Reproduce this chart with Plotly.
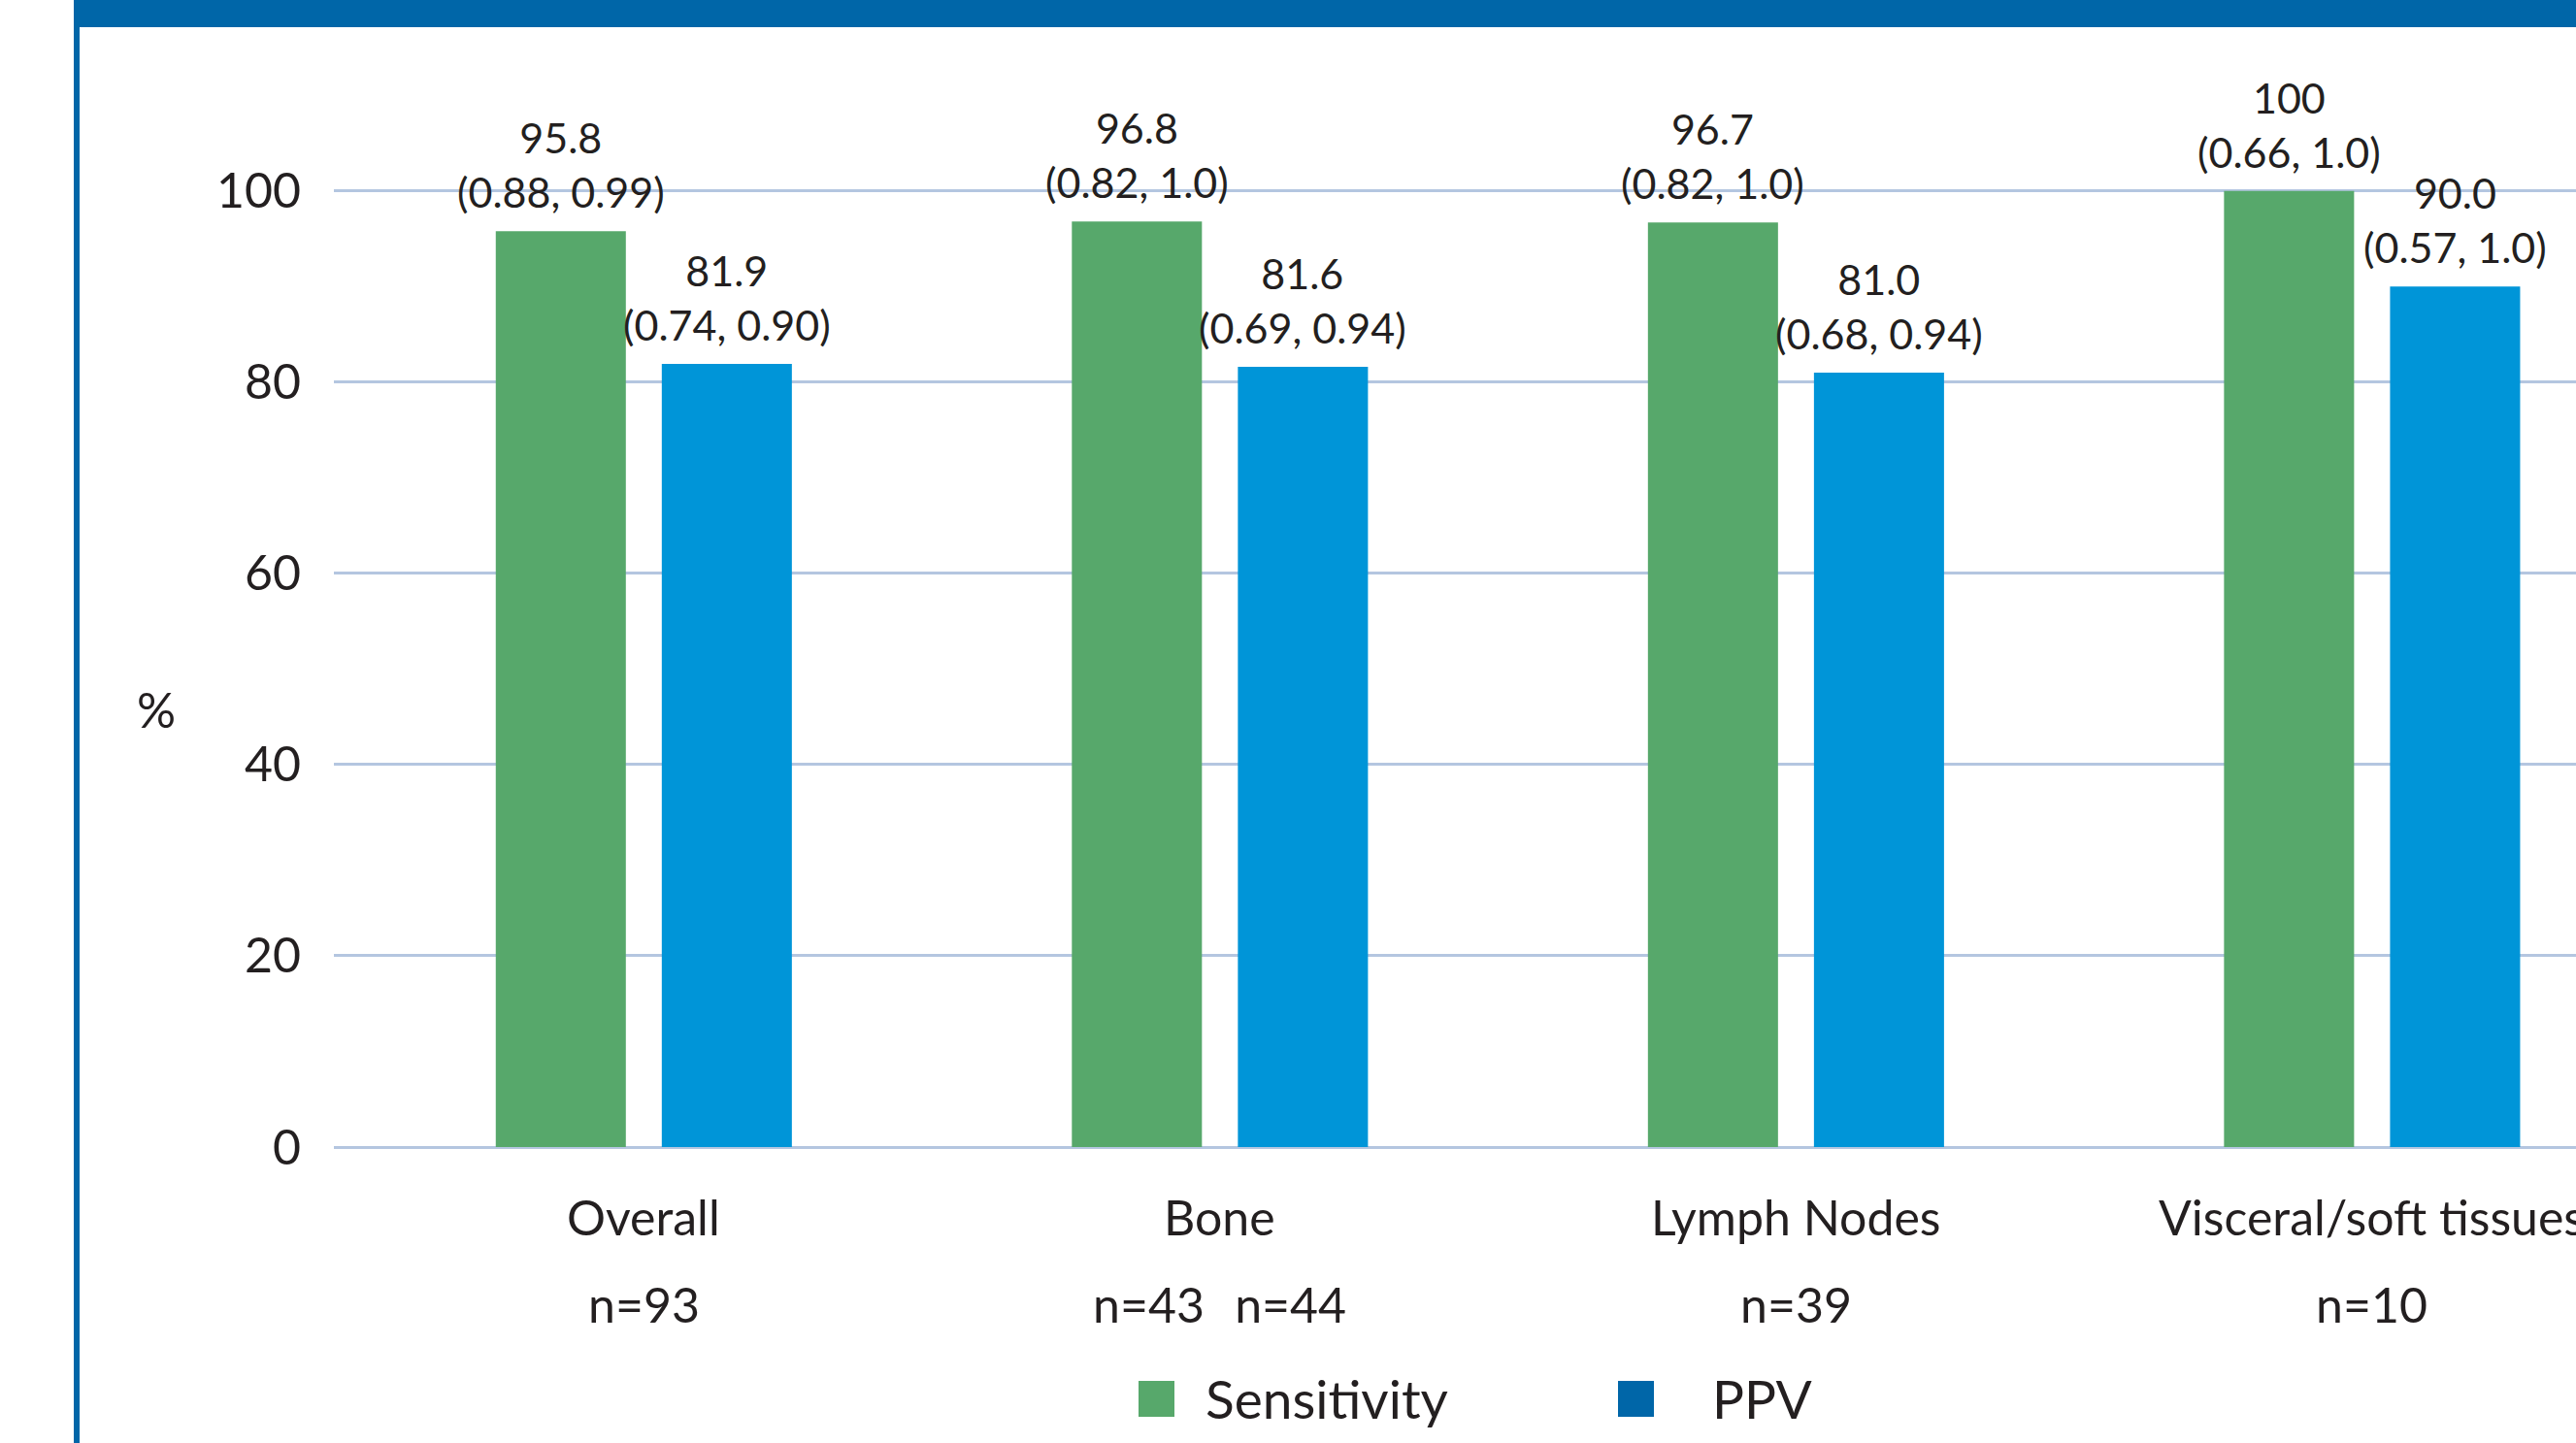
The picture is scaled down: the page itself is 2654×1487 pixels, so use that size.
import plotly.graph_objects as go

# ---- data -------------------------------------------------------------
categories = ["Overall", "Bone", "Lymph Nodes", "Visceral/soft tissues"]
sample_sizes = ["n=93", "n=43\u2002\u2009n=44", "n=39", "n=10"]
sensitivity = [95.8, 96.8, 96.7, 100]
sensitivity_ci = ["(0.88, 0.99)", "(0.82, 1.0)", "(0.82, 1.0)", "(0.66, 1.0)"]
ppv = [81.9, 81.6, 81.0, 90.0]
ppv_ci = ["(0.74, 0.90)", "(0.69, 0.94)", "(0.68, 0.94)", "(0.57, 1.0)"]
y_ticks = [0, 20, 40, 60, 80, 100]

# ---- style ------------------------------------------------------------
GREEN = "#57a86b"
BLUE = "#0095d8"
DARK_BLUE = "#0066a8"
GRID = "#b4c6e0"
INK = "#231f20"
FONT = "Lato, 'Noto Sans', sans-serif"

W, H = 2654, 1487
PLOT_L, PLOT_T, PLOT_B = 344, 49, 1182          # plot-area edges in px
PLOT_W = W - PLOT_L
PLOT_H = PLOT_B - PLOT_T

BAR_W = 0.2258      # bar width in category units
HALF_GAP = 0.0312   # half the gap between paired bars


def px_x(x):
    return (x - PLOT_L) / PLOT_W


def px_y(y):
    return (PLOT_B - y) / PLOT_H


def fmt(v):
    return f"{v:.0f}" if v >= 100 else f"{v:.1f}"


xs = list(range(len(categories)))

fig = go.Figure()
fig.add_bar(x=xs, y=sensitivity, width=BAR_W, offset=-(BAR_W + HALF_GAP),
            marker=dict(color=GREEN, line=dict(width=0)), name="Sensitivity",
            showlegend=False, hoverinfo="skip")
fig.add_bar(x=xs, y=ppv, width=BAR_W, offset=HALF_GAP,
            marker=dict(color=BLUE, line=dict(width=0)), name="PPV",
            showlegend=False, hoverinfo="skip")

annotations = []
shift = HALF_GAP + BAR_W / 2
for i in xs:
    for val, ci, dx in ((sensitivity[i], sensitivity_ci[i], -shift),
                        (ppv[i], ppv_ci[i], shift)):
        annotations.append(dict(
            x=i + dx, y=val, xref="x", yref="y", text=f"{fmt(val)}<br>{ci}",
            showarrow=False, yanchor="bottom", yshift=13,
            font=dict(family=FONT, size=43, color=INK)))
    annotations.append(dict(
        x=i, y=0, xref="x", yref="y", text=categories[i], showarrow=False,
        yanchor="middle", yshift=-72, font=dict(family=FONT, size=50, color=INK)))
    annotations.append(dict(
        x=i, y=0, xref="x", yref="y", text=sample_sizes[i], showarrow=False,
        yanchor="middle", yshift=-162, font=dict(family=FONT, size=50, color=INK)))

# y-axis title
annotations.append(dict(x=px_x(161), y=px_y(731), xref="paper", yref="paper",
                        text="%", showarrow=False, xanchor="center", yanchor="middle",
                        font=dict(family=FONT, size=50, color=INK)))

# legend (drawn by hand so the swatches can be large)
legend_items = [("Sensitivity", GREEN, 1173, 1240), ("PPV", DARK_BLUE, 1667, 1762)]
shapes = []
for label, color, sx, tx in legend_items:
    shapes.append(dict(type="rect", xref="paper", yref="paper",
                       x0=px_x(sx), x1=px_x(sx + 37), y0=px_y(1423), y1=px_y(1460),
                       fillcolor=color, line=dict(width=0), layer="above"))
    annotations.append(dict(x=px_x(tx), y=px_y(1441), xref="paper", yref="paper",
                            text=label, showarrow=False, xanchor="left",
                            yanchor="middle",
                            font=dict(family=FONT, size=55, color=INK)))

# frame: top band and left rule
shapes.append(dict(type="rect", xref="paper", yref="paper",
                   x0=px_x(76), x1=1.0, y0=px_y(28), y1=px_y(0),
                   fillcolor=DARK_BLUE, line=dict(width=0), layer="above"))
shapes.append(dict(type="rect", xref="paper", yref="paper",
                   x0=px_x(76), x1=px_x(82), y0=px_y(H), y1=px_y(0),
                   fillcolor=DARK_BLUE, line=dict(width=0), layer="above"))

fig.update_layout(
    width=W, height=H,
    margin=dict(l=PLOT_L, r=0, t=PLOT_T, b=H - PLOT_B, pad=0),
    paper_bgcolor="white", plot_bgcolor="white",
    barmode="overlay",
    showlegend=False,
    font=dict(family=FONT, color=INK),
    annotations=annotations,
    shapes=shapes,
    xaxis=dict(range=[-0.538, 3.354], showgrid=False, zeroline=False,
               showticklabels=False, showline=False, fixedrange=True),
    yaxis=dict(range=[0, 115], tickvals=y_ticks, showgrid=True,
               gridcolor=GRID, gridwidth=3, zeroline=True, zerolinecolor=GRID,
               zerolinewidth=3, showline=False, ticks="outside", ticklen=23,
               tickcolor="rgba(0,0,0,0)",
               tickfont=dict(family=FONT, size=50, color=INK), fixedrange=True),
)

fig.write_html("out.html")
